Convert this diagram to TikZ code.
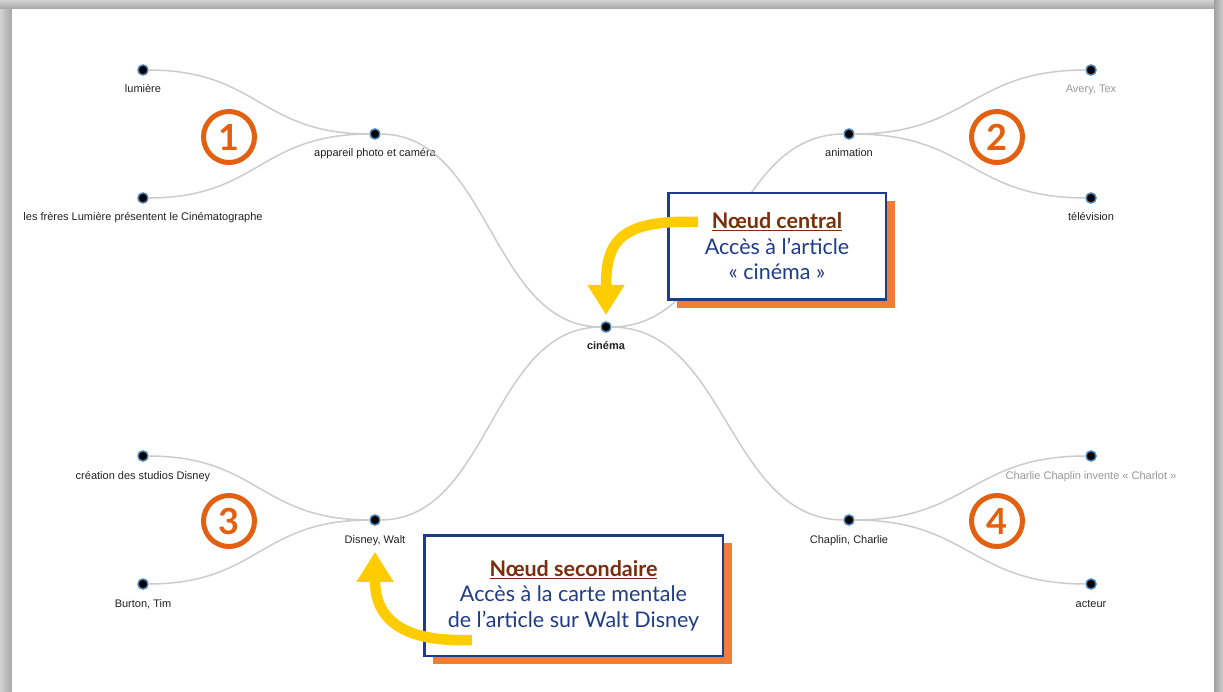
\documentclass[tikz,border=0pt]{standalone}
\usepackage{fontspec}
\setmainfont{Liberation Sans}
\newfontfamily\calloutfont{Lato}
\usetikzlibrary{calc,shadows,arrows.meta}

\definecolor{linkgray}{HTML}{CCCCCC}
\definecolor{dotrim}{HTML}{4682B4}
\definecolor{lbltext}{HTML}{222222}
\definecolor{lblgrey}{HTML}{999999}
\definecolor{numorange}{HTML}{E2600F}
\definecolor{boxblue}{HTML}{1F3C88}
\definecolor{titlebrown}{HTML}{7B2D0C}
\definecolor{shadoworange}{HTML}{F07C36}
\definecolor{hintyellow}{HTML}{FFCC00}

\begin{document}
\begin{tikzpicture}[x=1pt, y=-1pt,
    dot/.style={circle, fill=black, draw=dotrim, line width=1.5pt, inner sep=0pt, outer sep=0pt, minimum size=10pt},
    lbl/.style={font=\fontsize{11}{13}\selectfont, text=lbltext, anchor=base, label distance=18pt},
    link/.style={draw=linkgray, line width=1.5pt},
    num/.style={circle, draw=numorange, line width=5pt, minimum size=51pt, inner sep=0pt, text=numorange, font=\calloutfont\bfseries\fontsize{36}{36}\selectfont},
    callout/.style={draw=boxblue, line width=2.5pt, fill=white, align=center, text=boxblue, font=\calloutfont\fontsize{21.5}{25.5}\selectfont,
        drop shadow={shadow xshift=9pt, shadow yshift=-8pt, fill=shadoworange, opacity=1}},
    hint/.style={draw=hintyellow, line width=10.5pt, -{Triangle[width=35pt,length=30pt]}}
]
\useasboundingbox (0,0) rectangle (1223,692);

% Page frame
\shade[left color=gray!35, right color=gray!70] (0,0) rectangle (12,692);
\shade[top color=gray!35, bottom color=gray!70] (0,0) rectangle (1223,9);
\shade[left color=gray!75, right color=gray!40] (1214,0) rectangle (1223,692);
\fill[white] (12,9) rectangle (1214,692);

% Mind map nodes
\node[dot, label={[lbl, font=\fontsize{11}{13}\selectfont\bfseries]below:cinéma}] (cin) at (606,327) {};
\node[dot, label={[lbl]below:appareil photo et caméra}] (app) at (375,134) {};
\node[dot, label={[lbl]below:lumière}] (lum) at (143,70) {};
\node[dot, label={[lbl]below:les frères Lumière présentent le Cinématographe}] (fre) at (143,198) {};
\node[dot, label={[lbl]below:animation}] (ani) at (849,134) {};
\node[dot, label={[lbl, text=lblgrey]below:{Avery, Tex}}] (ave) at (1091,70) {};
\node[dot, label={[lbl]below:télévision}] (tel) at (1091,198) {};
\node[dot, label={[lbl, name=walL]below:{Disney, Walt}}] (wal) at (375,520) {};
\node[dot, label={[lbl]below:création des studios Disney}] (stu) at (143,456) {};
\node[dot, label={[lbl]below:{Burton, Tim}}] (bur) at (143,584) {};
\node[dot, label={[lbl]below:{Chaplin, Charlie}}] (cha) at (849,520) {};
\node[dot, label={[lbl, text=lblgrey]below:Charlie Chaplin invente « Charlot »}] (cho) at (1091,456) {};
\node[dot, label={[lbl]below:acteur}] (act) at (1091,584) {};

% Links
\foreach \a/\b in {cin/app, app/lum, app/fre, cin/ani, ani/ave, ani/tel,
                   cin/wal, wal/stu, wal/bur, cin/cha, cha/cho, cha/act} {
    \draw[link] let \p1=(\a), \p2=(\b) in
        (\a) .. controls ({(\x1+\x2)/2},\y1) and ({(\x1+\x2)/2},\y2) .. (\b);
}

% Branch numbers
\node[num] (n1) at (229,137) {1};
\node[num] (n2) at (997,137) {2};
\node[num] (n3) at (229,521) {3};
\node[num] (n4) at (997,521) {4};

% Callouts
\node[callout, minimum width=217.5pt, minimum height=106.5pt] (central) at (777,246.5)
    {\textcolor{titlebrown}{\bfseries\underline{Nœud central}}\\Accès à l’article\\« cinéma »};
\node[callout, minimum width=298.5pt, minimum height=120.5pt] (second) at (573.5,595.5)
    {\textcolor{titlebrown}{\bfseries\underline{Nœud secondaire}}\\Accès à la carte mentale\\de l’article sur Walt Disney};

% Yellow hints
\coordinate (c1) at ([xshift=31pt, yshift=24.5pt]central.west);
\coordinate (c2) at ([xshift=49pt, yshift=-44.5pt]second.west);
\draw[hint, shorten >=7pt] (c1) to[out=178, in=90, looseness=1.5] (cin);
\draw[hint, shorten >=3pt] (c2) to[out=182, in=-90, looseness=1.35] (walL);

\end{tikzpicture}
\end{document}
